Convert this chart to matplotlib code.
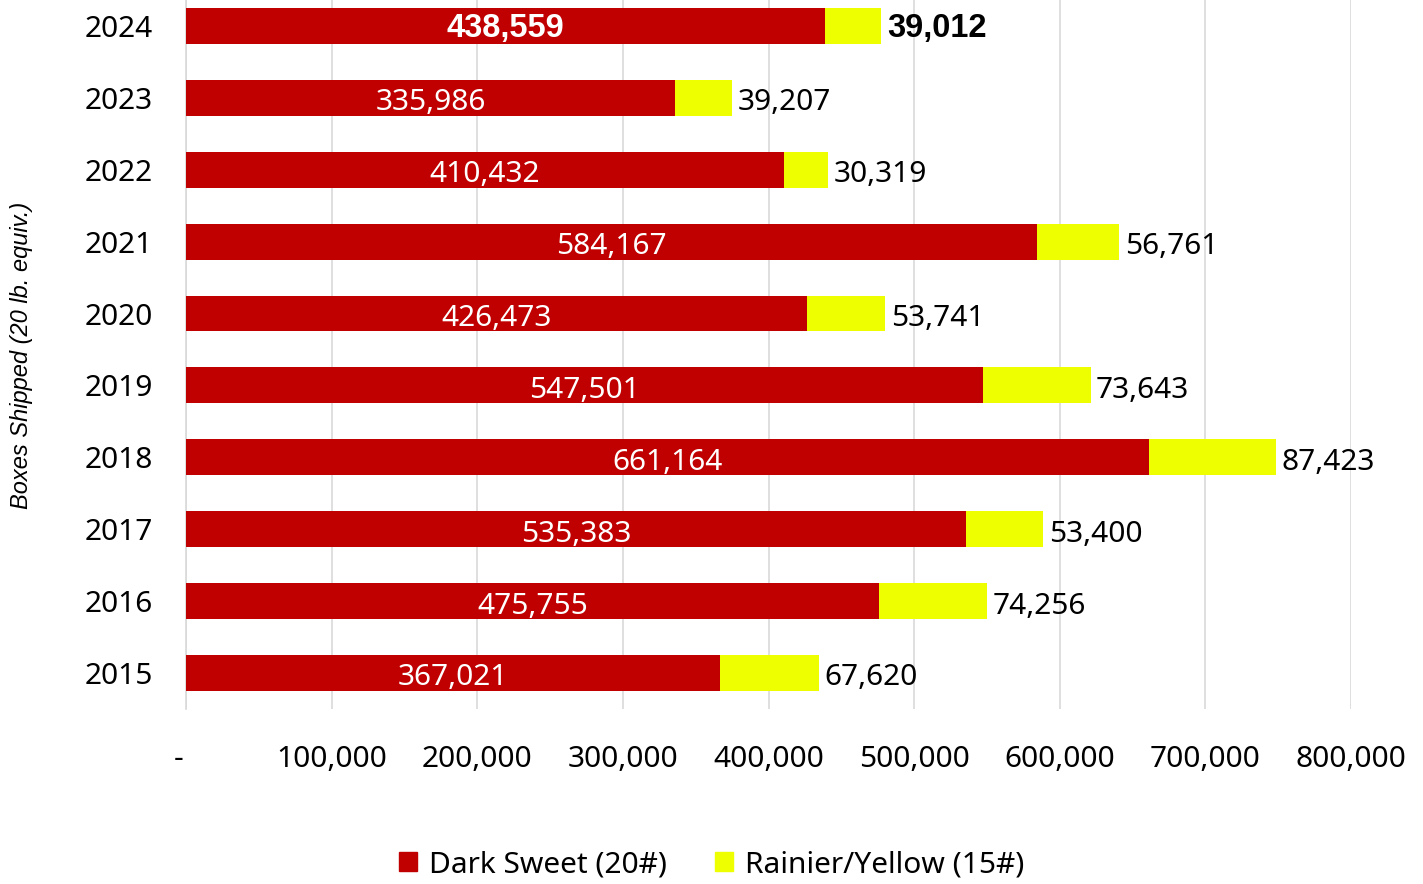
import matplotlib
matplotlib.use("Agg")
import matplotlib.pyplot as plt
import matplotlib.transforms as mtransforms
from matplotlib.patches import Patch

years = ["2015", "2016", "2017", "2018", "2019", "2020", "2021", "2022", "2023", "2024"]
dark_sweet = [367021, 475755, 535383, 661164, 547501, 426473, 584167, 410432, 335986, 438559]
rainier = [67620, 74256, 53400, 87423, 73643, 53741, 56761, 30319, 39207, 39012]
x_ticks = [0, 100000, 200000, 300000, 400000, 500000, 600000, 700000, 800000]
x_labels = ["-", "100,000", "200,000", "300,000", "400,000", "500,000", "600,000", "700,000", "800,000"]

RED = "#C00000"
YELLOW = "#EEFF00"
BODY = "Noto Sans"
FS = 21.5

plt.rcParams['font.family'] = [BODY, 'DejaVu Sans']

fig = plt.figure(figsize=(14.23, 8.84), dpi=100)
ax = fig.add_axes([186 / 1423, (884 - 709) / 884, (1351 - 186) / 1423, 709 / 884])

pos = list(range(len(years)))
ax.barh(pos, dark_sweet, height=0.5, color=RED, zorder=3)
ax.barh(pos, rainier, left=dark_sweet, height=0.5, color=YELLOW, zorder=3)

for i, (d, r) in enumerate(zip(dark_sweet, rainier)):
    if years[i] == "2024":
        kw = dict(family="Liberation Sans", fontweight="bold", fontsize=23.5)
        dy = -2
    else:
        kw = dict(family=BODY, fontsize=FS)
        dy = -3.5
    ax.annotate(f"{d:,}", xy=(d / 2, i), xytext=(0, dy), textcoords="offset points",
                ha="center", va="center", color="white", zorder=4, **kw)
    ax.annotate(f"{r:,}", xy=(d + r, i), xytext=(4, dy), textcoords="offset points",
                ha="left", va="center", color="black", zorder=4, **kw)

ax.set_xlim(0, 800000)
ax.set_ylim(-0.5, 9.36)
ax.set_yticks(pos)
ax.set_yticklabels(years, fontsize=FS)
ax.set_xticks(x_ticks)
ax.set_xticklabels(x_labels, fontsize=FS)
ax.tick_params(axis="both", length=0)
ax.tick_params(axis="y", pad=24)
ax.tick_params(axis="x", pad=26)

# Excel puts the zero dash a little left of the axis
dash = ax.get_xticklabels()[0]
dash.set_transform(dash.get_transform() + mtransforms.ScaledTranslation(-7 / 100, 0, fig.dpi_scale_trans))

ax.grid(axis="x", color="#D9D9D9", linewidth=1.2, zorder=0)
for s in ["top", "right", "bottom"]:
    ax.spines[s].set_visible(False)
ax.spines["left"].set_color("#D9D9D9")
ax.spines["left"].set_linewidth(1.2)

fig.text(22 / 1423, 1 - 355 / 884, "Boxes Shipped (20 lb. equiv.)", rotation=90,
         ha="center", va="center", family="Liberation Sans", style="italic", fontsize=17)

handles = [Patch(color=RED, label="Dark Sweet (20#)"), Patch(color=YELLOW, label="Rainier/Yellow (15#)")]
fig.legend(handles=handles, loc="center", bbox_to_anchor=(0.5, 1 - 865 / 884), ncol=2,
           frameon=False, fontsize=FS, handlelength=0.6, handleheight=0.6,
           handletextpad=0.4, columnspacing=1.6)

fig.savefig("out.png", dpi=100)
